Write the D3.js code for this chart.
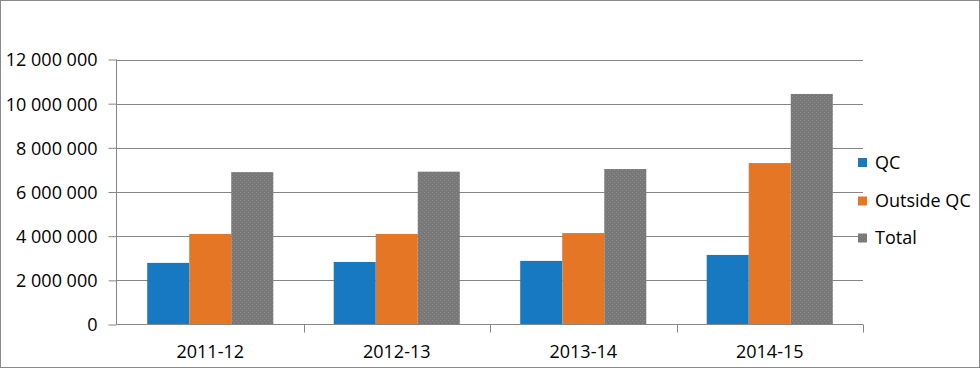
<!DOCTYPE html>
<html><head><meta charset="utf-8">
<script src="https://cdn.jsdelivr.net/npm/d3@7"></script>
<style>
html,body{margin:0;padding:0;background:#fff;}
svg{display:block;font-family:"Open Sans",sans-serif;}
</style></head>
<body><svg id="c" width="980" height="368"></svg>
<script>
const categories = ["2011-12","2012-13","2013-14","2014-15"];
const seriesNames = ["QC","Outside QC","Total"];
const qcValues = [2790000, 2830000, 2880000, 3150000];
const outsideValues = [4100000, 4100000, 4140000, 7310000];
const totalValues = [6900000, 6920000, 7040000, 10440000];
const yTicks = [0, 2000000, 4000000, 6000000, 8000000, 10000000, 12000000];
const colors = ["#1779c1", "#e47626", "url(#dots)"];

const svg = d3.select("#c");
const defs = svg.append("defs");
const pat = defs.append("pattern").attr("id","dots").attr("patternUnits","userSpaceOnUse")
  .attr("width",4).attr("height",4);
pat.append("rect").attr("width",4).attr("height",4).attr("fill","#787878");
pat.append("rect").attr("x",0).attr("y",0).attr("width",1).attr("height",1).attr("fill","#8c8c8c");
pat.append("rect").attr("x",2).attr("y",2).attr("width",1).attr("height",1).attr("fill","#8c8c8c");

// border
svg.append("rect").attr("x",0.5).attr("y",0.5).attr("width",979).attr("height",367)
  .attr("fill","#fff").attr("stroke","#8a8a8a").attr("stroke-width",1);

const x0 = d3.scaleBand().domain(categories).range([117, 863]).paddingInner(0.324).paddingOuter(0.162);
const x1 = d3.scaleBand().domain(seriesNames).range([0, x0.bandwidth()]);
const y = d3.scaleLinear().domain([0, 12000000]).range([324.5, 59.5]);

const fmt = v => d3.format(",")(v).replace(/,/g, " ");

// gridlines
svg.append("g").selectAll("line").data(yTicks.filter(d=>d>0)).join("line")
  .attr("x1",116.5).attr("x2",863).attr("y1",d=>Math.round(y(d))+0.5).attr("y2",d=>Math.round(y(d))+0.5)
  .attr("stroke","#868686").attr("stroke-width",1);

// bars
const data = [qcValues, outsideValues, totalValues];
const g = svg.append("g");
categories.forEach((c, i) => {
  seriesNames.forEach((s, j) => {
    g.append("rect")
      .attr("x", x0(c) + x1(s))
      .attr("y", y(data[j][i]))
      .attr("width", x1.bandwidth())
      .attr("height", y(0) - y(data[j][i]))
      .attr("fill", colors[j]);
  });
});

// y axis
const yAxis = d3.axisLeft(y).tickValues(yTicks).tickFormat(fmt).tickSize(8).tickPadding(11);
const ya = svg.append("g").attr("transform","translate(116.5,0)").call(yAxis);
ya.select(".domain").attr("stroke","#868686").attr("d","M0,59.5V324.5");
ya.selectAll(".tick line").attr("stroke","#868686");
ya.selectAll(".tick text").attr("font-family","Open Sans").attr("font-size","18px").attr("fill","#000").attr("dy","0.36em");

// x axis
const xa = svg.append("g").attr("transform","translate(0,324.5)");
xa.append("line").attr("x1",116.5).attr("x2",863).attr("stroke","#868686");
const bounds = [117].concat(categories.map(c => x0(c) - x0.step()*x0.paddingInner()/2 + x0.step()));
bounds[bounds.length-1] = 863;
xa.selectAll(".tk").data(bounds.slice(1)).join("line").attr("class","tk")
  .attr("x1",d=>Math.round(d)+0.5).attr("x2",d=>Math.round(d)+0.5).attr("y1",0).attr("y2",8).attr("stroke","#868686");
xa.selectAll("text").data(categories).join("text")
  .attr("x", c => x0(c) + x0.bandwidth()/2).attr("y", 33.5)
  .attr("text-anchor","middle").attr("font-size","18px").attr("fill","#000").text(d=>d);

// legend
const leg = svg.append("g");
const legY = [162.5, 201, 238];
seriesNames.forEach((s, j) => {
  leg.append("rect").attr("x",858).attr("y",legY[j]-4.5).attr("width",9).attr("height",9).attr("fill",colors[j]);
  leg.append("text").attr("x",875).attr("y",legY[j]).attr("dy","0.36em").attr("font-size","18px").attr("fill","#000").text(s);
});
</script></body></html>
